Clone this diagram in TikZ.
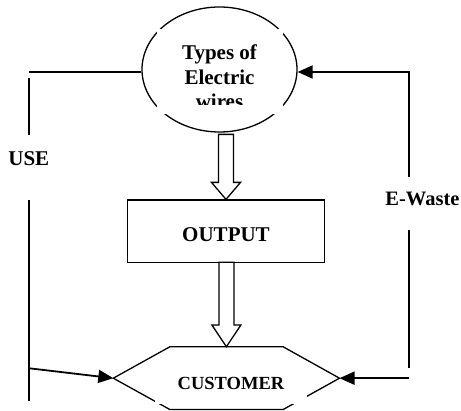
\documentclass[tikz,border=0pt]{standalone}
\usepackage{fontspec}
\setmainfont{Liberation Serif}
\usetikzlibrary{arrows.meta,shapes.geometric,calc}
\tikzset{
  shapeline/.style={draw=black,line width=1.3pt},
  conn/.style={draw=black,line width=1.8pt},
  tip/.style={-{Triangle[length=15pt,width=13pt]}},
  blockarrow/.style={draw=black,line width=1.3pt,fill=white,line join=miter},
  bigtxt/.style={font=\bfseries\fontsize{21}{24}\selectfont,inner sep=0pt,anchor=base},
  smalltxt/.style={font=\bfseries\fontsize{18.5}{22}\selectfont,inner sep=0pt,anchor=base},
  coverbox/.style={fill=white,draw=none}
}
\begin{document}
\begin{tikzpicture}[x=1pt,y=-1pt]
\useasboundingbox (0,0) rectangle (461,411);

% ---- ellipse "Types of Electric wires"
\node[ellipse,shapeline,minimum width=155pt,minimum height=125pt,inner sep=0pt] (E) at (219.5,69.5) {};
\path[coverbox] (157,29) rectangle (283,114);
\begin{scope}
  \clip (157,29) rectangle (283,105);
  \node[bigtxt] (t1) at (219.5,60) {Types of};
  \node[bigtxt] (t2) at (219.5,84.3) {Electric};
  \node[bigtxt] (t3) at (219.5,108.6) {wires};
\end{scope}

% ---- OUTPUT box
\node[shapeline,minimum width=196.6pt,minimum height=62.3pt,inner sep=0pt] (O) at (226,231.2) {};
\node[bigtxt] (otxt) at (226,241.7) {OUTPUT};

% ---- CUSTOMER hexagon
\coordinate (hl)  at (113.3,378.2);
\coordinate (htl) at (170,346.7);
\coordinate (hT)  at (226.4,346.7);
\coordinate (htr) at (283,346.7);
\coordinate (hr)  at (339.5,378.2);
\coordinate (hbr) at (283,409.6);
\coordinate (hbl) at (170,409.6);
\draw[shapeline,line join=miter] (hl) -- (htl) -- (htr) -- (hr) -- (hbr) -- (hbl) -- cycle;
\path[coverbox] (155,362) rectangle (307,404.5);
\node[smalltxt] (ctxt) at (231,389.3) {CUSTOMER};

% ---- block arrows
\draw[blockarrow] (O.north) -- ++(-14.5,-17) -- ++(7,0) -- ++(0,-48) -- ++(15,0) -- ++(0,48) -- ++(7,0) -- cycle;
\draw[blockarrow] (hT) -- ++(-14.5,-21.7) -- ++(7,0) -- ++(0,-62.7) -- ++(15,0) -- ++(0,62.7) -- ++(7,0) -- cycle;

% ---- left loop: USE
\coordinate (l0) at (29.3,72);
\coordinate (l1) at (29.3,78);
\coordinate (l2) at (29.3,135);
\coordinate (l3) at (29.3,200);
\coordinate (l4) at (29.3,400.7);
\coordinate (l5) at (29.3,368.3);
\draw[conn] (l0) -- (l0 -| E.west);
\draw[conn] (l1) -- (l2);
\draw[conn] (l3) -- (l4);
\node[bigtxt] (use) at (28.8,166) {USE};
\draw[conn,tip] (l5) -- (hl);

% ---- right loop: E-Waste
\coordinate (r0) at (409.3,72);
\coordinate (r1) at (409.3,176.7);
\coordinate (r2) at (409.3,230);
\coordinate (r3) at (409.3,368.3);
\coordinate (r4) at (409.3,378.2);
\draw[conn,tip] (r1) -- (r0) -- (r0 -| E.east);
\draw[conn] (r2) -- (r3);
\draw[conn,tip] (r4) -- (hr);
\node[bigtxt,font=\bfseries\fontsize{20.5}{24}\selectfont] (ew) at (422.5,206) {E-Waste};
\end{tikzpicture}
\end{document}
